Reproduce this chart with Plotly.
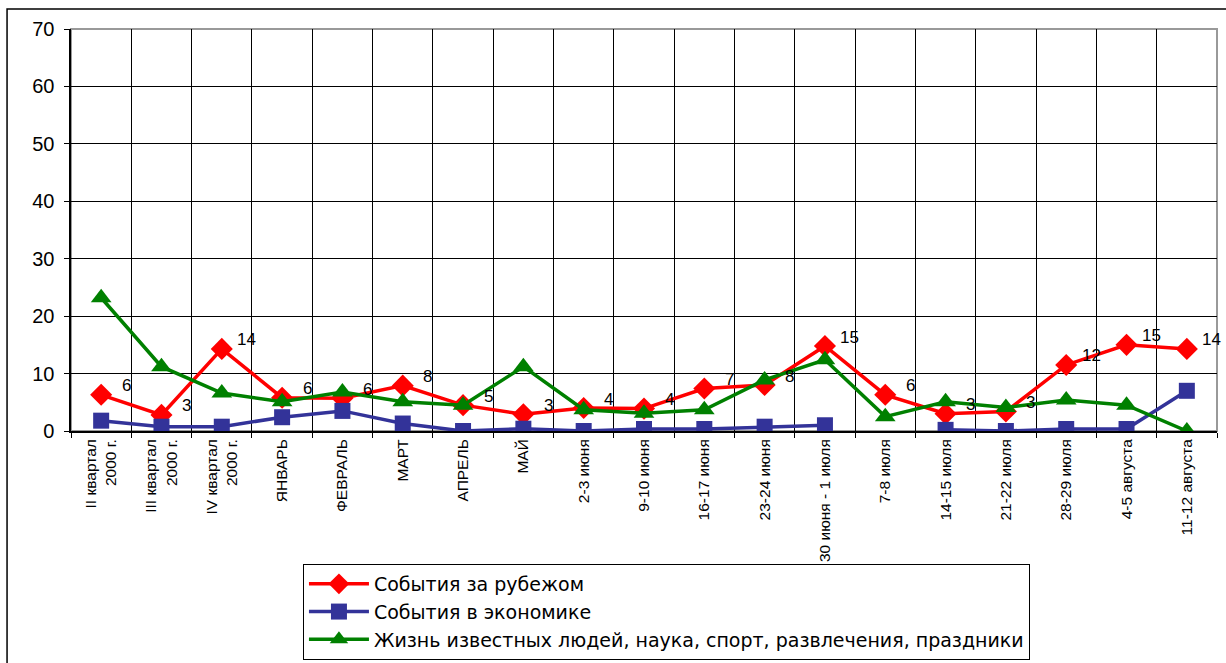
import plotly.graph_objects as go

categories = ["II квартал<br>2000 г.", "III квартал<br>2000 г.", "IV квартал<br>2000 г.",
              "ЯНВАРЬ", "ФЕВРАЛЬ", "МАРТ", "АПРЕЛЬ", "МАЙ", "2-3 июня", "9-10 июня",
              "16-17 июня", "23-24 июня", "30 июня - 1 июля", "7-8 июля", "14-15 июля",
              "21-22 июля", "28-29 июля", "4-5 августа", "11-12 августа"]

abroad = [6.3, 2.8, 14.3, 5.8, 5.7, 7.9, 4.5, 2.9, 4.0, 3.9, 7.4, 8.0, 14.8, 6.3, 3.0, 3.4, 11.5, 15.0, 14.3]
abroad_labels = ["6", "3", "14", "6", "6", "8", "5", "3", "4", "4", "7", "8", "15", "6", "3", "3", "12", "15", "14"]
economy = [1.8, 0.75, 0.75, 2.4, 3.5, 1.3, 0.0, 0.4, 0.0, 0.35, 0.35, 0.75, 1.0, None, 0.2, 0.0, 0.35, 0.35, 7.0]
celebrity = [23.2, 11.2, 6.6, 5.1, 6.8, 5.1, 4.5, 11.2, 3.7, 3.1, 3.7, 8.9, 12.4, 2.5, 5.1, 4.1, 5.4, 4.5, 0.0]

names = ["События за рубежом", "События в экономике",
         "Жизнь известных людей, наука, спорт, развлечения, праздники"]

FONT = "Liberation Sans, Arial, sans-serif"
fig = go.Figure()
fig.add_trace(go.Scatter(x=categories, y=abroad, name=names[0], mode="lines+markers",
                         line=dict(color="#FF0000", width=3.5),
                         marker=dict(symbol="diamond", size=17, color="#FF0000")))
fig.add_trace(go.Scatter(x=categories, y=economy, name=names[1], mode="lines+markers",
                         line=dict(color="#333399", width=3.5),
                         marker=dict(symbol="square", size=16, color="#333399")))
fig.add_trace(go.Scatter(x=categories, y=celebrity, name=names[2], mode="lines+markers",
                         line=dict(color="#008000", width=3.5),
                         marker=dict(symbol="triangle-up", size=18, color="#008000")))

for c, v, t in zip(categories, abroad, abroad_labels):
    fig.add_annotation(x=c, y=v, text=t, showarrow=False, xanchor="center", yanchor="middle",
                       xshift=25, yshift=9, font=dict(family=FONT, size=17, color="black"))

fig.add_shape(type="rect", xref="paper", yref="paper", x0=0, x1=1, y0=0, y1=1,
              line=dict(color="#999999", width=2), layer="below")
fig.add_shape(type="rect", xref="paper", yref="paper", x0=-0.0558, x1=1.2, y0=1.0497, y1=-2,
              line=dict(color="black", width=1.5))

fig.update_layout(
    width=1226, height=663,
    margin=dict(l=71, r=9, t=29, b=232, autoexpand=False),
    paper_bgcolor="white", plot_bgcolor="white",
    font=dict(family=FONT, color="black"),
    showlegend=True,
    legend=dict(x=0.2024, y=-0.5697, xanchor="left", yanchor="bottom",
                bgcolor="white", bordercolor="black", borderwidth=1,
                font=dict(family="DejaVu Sans, sans-serif", size=19, color="black"),
                tracegroupgap=0, itemwidth=60),
    xaxis=dict(type="category", range=[-0.5, 18.5], tickson="boundaries", automargin=False,
               showgrid=True, gridcolor="black", gridwidth=1,
               showline=True, linecolor="black", linewidth=2,
               ticks="outside", ticklen=5, tickcolor="black",
               tickangle=-90, tickfont=dict(family=FONT, size=15.5, color="black")),
    yaxis=dict(range=[0, 70], dtick=10, showgrid=True, gridcolor="black", gridwidth=1,
               showline=True, linecolor="black", linewidth=2, zeroline=False, automargin=False,
               ticks="outside", ticklen=5, tickcolor="black", ticksuffix=" ",
               tickfont=dict(family=FONT, size=20, color="black")),
)

fig.write_html("out.html", config={"displayModeBar": False},
               post_script="document.body.style.margin='0';")
